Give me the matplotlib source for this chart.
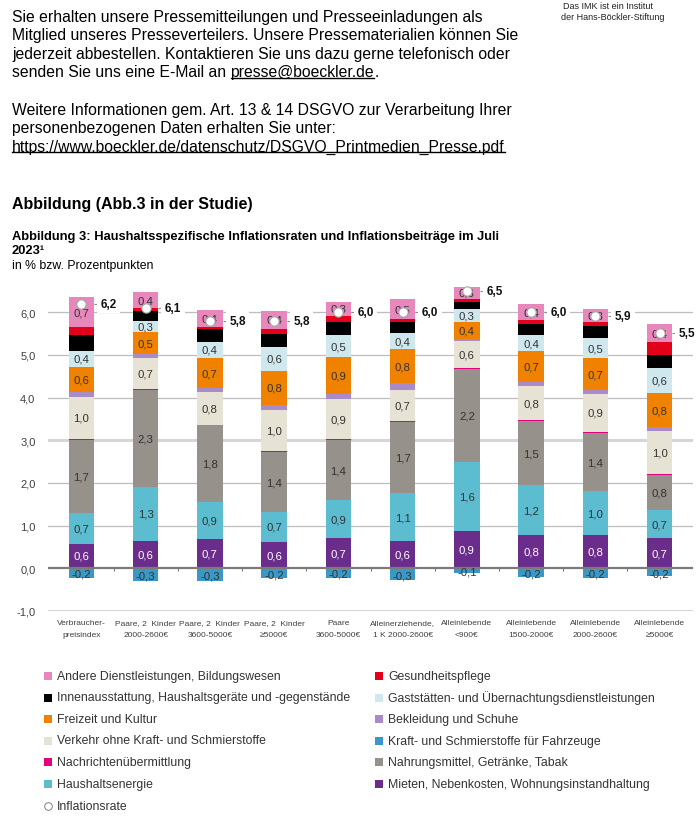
import matplotlib
matplotlib.use('Agg')
import matplotlib.pyplot as plt
import numpy as np

plt.rcParams['font.family'] = ['Liberation Sans', 'DejaVu Sans']

categories = ["Verbraucher-\npreisindex", "Paare, 2  Kinder\n2000-2600€", "Paare, 2  Kinder\n3600-5000€",
              "Paare, 2  Kinder\n≥5000€", "Paare\n3600-5000€", "Alleinerziehende,\n1 K 2000-2600€",
              "Alleinlebende\n<900€", "Alleinlebende\n1500-2000€", "Alleinlebende\n2000-2600€",
              "Alleinlebende\n≥5000€"]

# contributions in percentage points, bottom to top
mieten = [0.58, 0.64, 0.68, 0.62, 0.70, 0.63, 0.87, 0.77, 0.77, 0.70]
energie = [0.72, 1.27, 0.87, 0.70, 0.89, 1.14, 1.63, 1.17, 1.03, 0.66]
nahrung = [1.70, 2.26, 1.80, 1.40, 1.42, 1.66, 2.16, 1.51, 1.36, 0.83]
nachrichten = [0.04, 0.02, 0.01, 0.03, 0.02, 0.01, 0.03, 0.02, 0.03, 0.03]
verkehr = [0.98, 0.74, 0.76, 0.96, 0.93, 0.74, 0.63, 0.80, 0.90, 1.00]
bekleidung = [0.10, 0.08, 0.10, 0.12, 0.12, 0.15, 0.05, 0.10, 0.09, 0.08]
freizeit = [0.60, 0.53, 0.70, 0.80, 0.86, 0.80, 0.40, 0.72, 0.74, 0.81]
gaststaetten = [0.38, 0.26, 0.39, 0.56, 0.53, 0.37, 0.30, 0.37, 0.47, 0.58]
innen = [0.37, 0.23, 0.29, 0.30, 0.30, 0.28, 0.16, 0.27, 0.29, 0.31]
gesundheit = [0.17, 0.07, 0.04, 0.12, 0.14, 0.05, 0.07, 0.08, 0.10, 0.30]
andere = [0.72, 0.36, 0.42, 0.42, 0.33, 0.47, 0.30, 0.37, 0.30, 0.42]
kraftstoffe = [-0.22, -0.30, -0.30, -0.23, -0.22, -0.28, -0.10, -0.21, -0.22, -0.18]
inflation = [6.2, 6.1, 5.8, 5.8, 6.0, 6.0, 6.5, 6.0, 5.9, 5.5]

# (label, values, colour, show value, value text colour)
stack = [
    ("Mieten, Nebenkosten, Wohnungsinstandhaltung", mieten, "#6B2D8C", True, "white"),
    ("Haushaltsenergie", energie, "#5CBDD1", True, "#333333"),
    ("Nahrungsmittel, Getränke, Tabak", nahrung, "#96918A", True, "#333333"),
    ("Nachrichtenübermittlung", nachrichten, "#E5007D", False, None),
    ("Verkehr ohne Kraft- und Schmierstoffe", verkehr, "#E7E3D4", True, "#333333"),
    ("Bekleidung und Schuhe", bekleidung, "#A98BC9", False, None),
    ("Freizeit und Kultur", freizeit, "#F08200", True, "#333333"),
    ("Gaststätten- und Übernachtungsdienstleistungen", gaststaetten, "#CFE8EE", True, "#333333"),
    ("Innenausstattung, Haushaltsgeräte und -gegenstände", innen, "#000000", False, None),
    ("Gesundheitspflege", gesundheit, "#E3001B", False, None),
    ("Andere Dienstleistungen, Bildungswesen", andere, "#E787BC", True, "#333333"),
]
fuel_name = "Kraft- und Schmierstoffe für Fahrzeuge"
fuel_color = "#3A98C6"


def fmt(v):
    return f"{v:.1f}".replace(".", ",")


fig = plt.figure(figsize=(7, 8.29), dpi=100)
H = 829
ax = fig.add_axes([48 / 700, (H - 612) / H, (693 - 48) / 700, (612 - 274.7) / H])

x = np.arange(len(categories))
w = 0.4

# grid
for yv in range(-1, 7):
    if yv in (-1, 3):
        ax.axhline(yv, color="#D6D6D6", lw=2.2, zorder=1)
    elif yv != 0:
        ax.axhline(yv, color="#BDBDBD", lw=0.9, zorder=1)

bottom = np.zeros(len(x))
handles = {}
for name, vals, color, show, tc in stack:
    vals = np.array(vals)
    ax.bar(x, vals, w, bottom=bottom, color=color, zorder=3)
    if show:
        for i in range(len(x)):
            ax.text(x[i], bottom[i] + vals[i] / 2, fmt(vals[i]), ha="center", va="center",
                    fontsize=8.2, color=tc, zorder=6)
    bottom += vals
    handles[name] = color

ax.bar(x, kraftstoffe, w, color=fuel_color, zorder=3)
for i in range(len(x)):
    ax.text(x[i], kraftstoffe[i] / 2 - 0.02, fmt(kraftstoffe[i]), ha="center", va="center",
            fontsize=8.2, color="#333333", zorder=6)
handles[fuel_name] = fuel_color

ax.axhline(0, color="#7A7A7A", lw=1.6, zorder=4)
ax.vlines(np.arange(0.5, len(x) - 1, 1), -0.07, 0, color="#7A7A7A", lw=0.8, zorder=4)

# inflation rates
ax.hlines(inflation, x + w / 2, x + 0.3, color="#8C8C8C", lw=0.8, zorder=2)
ax.scatter(x, inflation, s=45, facecolor="white", edgecolor="#A6A6A6", lw=0.8, zorder=7)
for i in range(len(x)):
    ax.text(x[i] + 0.3, inflation[i], fmt(inflation[i]), ha="left", va="center", fontsize=8.5,
            fontweight="bold", color="#111111", zorder=5,
            bbox=dict(facecolor="white", edgecolor="none", pad=2.5))

ax.set_xlim(-0.52, len(x) - 0.48)
ax.set_ylim(-1.0, 6.9)
ax.set_yticks(range(-1, 7), [fmt(v) for v in range(-1, 7)], fontsize=8, color="#404040")
ax.set_xticks(x, categories, fontsize=6.0, color="#404040")
for lbl in ax.get_xticklabels():
    lbl.set_linespacing(1.9)
ax.tick_params(axis="both", length=0)
ax.tick_params(axis="y", pad=9)
ax.tick_params(axis="x", pad=6)
for s in ax.spines.values():
    s.set_visible(False)

# text layer in pixel coordinates
tax = fig.add_axes([0, 0, 1, 1])
tax.set_xlim(0, 700)
tax.set_ylim(H, 0)
tax.axis("off")
tax.patch.set_alpha(0)

tax.text(563, 6, "Das IMK ist ein Institut", fontsize=6.5, va="center", color="#222222")
tax.text(561, 17, "der Hans-Böckler-Stiftung", fontsize=6.5, va="center", color="#222222")

fs = 11.3
body = ["Sie erhalten unsere Pressemitteilungen und Presseeinladungen als",
        "Mitglied unseres Presseverteilers. Unsere Pressematerialien können Sie",
        "jederzeit abbestellen. Kontaktieren Sie uns dazu gerne telefonisch oder"]
body_y = [17, 35.5, 54]
for t, yy in zip(body, body_y):
    tax.text(12, yy, t, fontsize=fs, va="center")

fig.canvas.draw()
r = fig.canvas.get_renderer()


def underline(t):
    bb = t.get_window_extent(r)
    tax.plot([bb.x0, bb.x1], [H - bb.y0 - 1.5, H - bb.y0 - 1.5], color="black", lw=1)


t1 = tax.text(12, 72.5, "senden Sie uns eine E-Mail an ", fontsize=fs, va="center")
bb = t1.get_window_extent(r)
t2 = tax.text(bb.x1, 72.5, "presse@boeckler.de", fontsize=fs, va="center")
bb2 = t2.get_window_extent(r)
tax.text(bb2.x1, 72.5, ".", fontsize=fs, va="center")
underline(t2)

tax.text(12, 110, "Weitere Informationen gem. Art. 13 & 14 DSGVO zur Verarbeitung Ihrer",
         fontsize=fs, va="center")
tax.text(12, 128.5, "personenbezogenen Daten erhalten Sie unter:", fontsize=fs, va="center")
t3 = tax.text(12, 147, "https://www.boeckler.de/datenschutz/DSGVO_Printmedien_Presse.pdf",
              fontsize=fs, va="center")
underline(t3)

tax.text(12, 204, "Abbildung (Abb.3 in der Studie)", fontsize=11.5, fontweight="bold", va="center")
tax.text(12, 237, "Abbildung 3: Haushaltsspezifische Inflationsraten und Inflationsbeiträge im Juli",
         fontsize=9.3, fontweight="bold", va="center")
tax.text(12, 251, "2023¹", fontsize=9.3, fontweight="bold", va="center")
tax.text(12, 266, "in % bzw. Prozentpunkten", fontsize=8.8, va="center")

# legend
order_left = ["Andere Dienstleistungen, Bildungswesen",
              "Innenausstattung, Haushaltsgeräte und -gegenstände",
              "Freizeit und Kultur", "Verkehr ohne Kraft- und Schmierstoffe",
              "Nachrichtenübermittlung", "Haushaltsenergie", "Inflationsrate"]
order_right = ["Gesundheitspflege", "Gaststätten- und Übernachtungsdienstleistungen",
               "Bekleidung und Schuhe", fuel_name, "Nahrungsmittel, Getränke, Tabak",
               "Mieten, Nebenkosten, Wohnungsinstandhaltung"]
rows = [677, 698.5, 720, 741.5, 763, 785, 807]
for col, names, mx in [(0, order_left, 48), (1, order_right, 379)]:
    for name, yy in zip(names, rows):
        if name == "Inflationsrate":
            tax.plot(mx, yy, "o", ms=5.5, mfc="white", mec="#7F7F7F", mew=0.7)
        else:
            tax.plot(mx, yy, "s", ms=5.3, color=handles[name], mew=0)
        tax.text(mx + 9, yy, name, fontsize=8.8, va="center", color="#333333")

fig.savefig("out.png", dpi=100)
